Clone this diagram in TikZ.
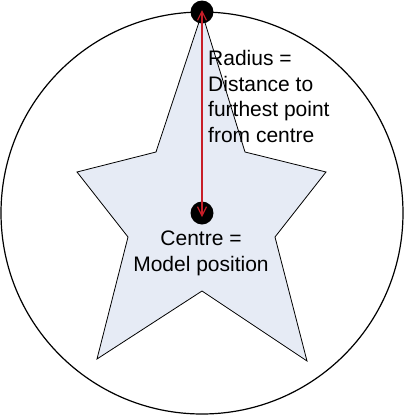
\documentclass[tikz,border=0pt]{standalone}
\usepackage{fontspec}
\setmainfont{Liberation Sans}
\usepackage{xcolor}
\usetikzlibrary{arrows.meta}
\definecolor{starfill}{RGB}{230,235,245}
\definecolor{arrowred}{RGB}{200,30,40}
\tikzset{
	dot/.style={circle,fill=black,inner sep=0pt,minimum size=23pt},
	label text/.style={font=\fontsize{21}{25.5}\selectfont,align=left,inner sep=0pt},
}
\begin{document}
\begin{tikzpicture}[x=1pt,y=-1pt]
	\useasboundingbox (0,0) rectangle (404,416);
	\draw [line width=1.2pt] (202,213) circle (201);
	\draw [fill=starfill,line width=0.8pt] (202,13) -- (245,152) -- (326,172) -- (275,237) -- (307,361)
		-- (202,291) -- (97,359) -- (128,237) -- (77,172) -- (156,152) -- cycle;
	\node [dot] at (202,12) (edge) {};
	\node [dot] at (202,213) (centre) {};
	\draw [arrowred,line width=1.2pt,{Straight Barb[length=9pt,width=9pt]}-{Straight Barb[length=9pt,width=9pt]},shorten <=-2pt,shorten >=-4pt] (edge.center) -- (centre.center);
	\node [label text,anchor=base west] at (208,142) (radius) {Radius =\\Distance to\\furthest point\\from centre};
	\node [label text,align=center,anchor=base] at (201,271) (model) {Centre =\\Model position};
\end{tikzpicture}
\end{document}
